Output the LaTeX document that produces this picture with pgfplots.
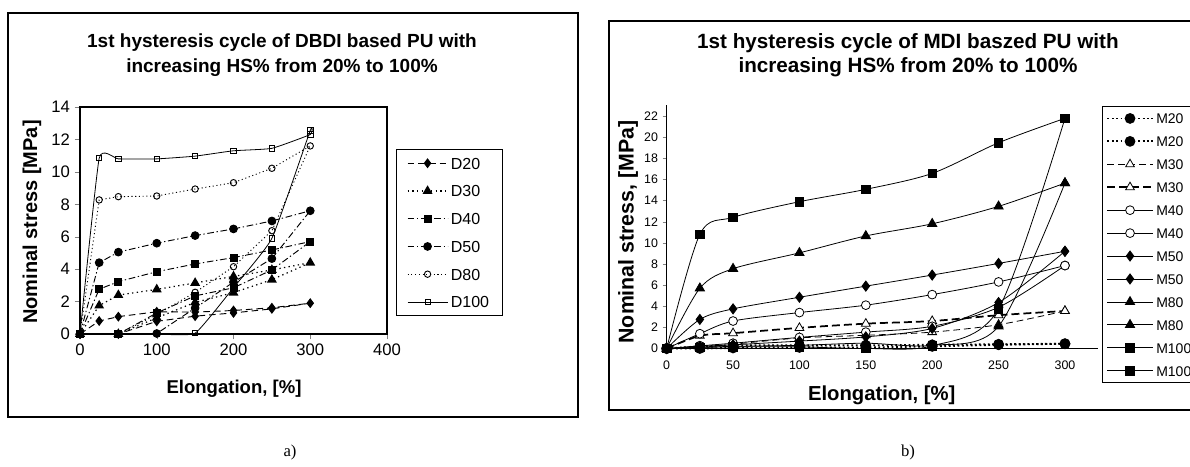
\documentclass[border=0pt]{standalone}
\usepackage{fontspec}
\setmainfont{Liberation Sans}
\newfontfamily\timesf{Liberation Serif}
\usepackage{pgfplots}
\pgfplotsset{compat=1.18}

\pgfplotstableread{
x y
0 0
25 0.8
50 1.07
100 1.37
150 1.35
200 1.45
250 1.62
300 1.9
250 1.55
200 1.3
150 1.1
100 0.78
50 0
0 0
}\Dtwenty
\pgfplotstableread{
x y
0 0
25 1.75
50 2.4
100 2.75
150 3.15
200 3.55
250 3.95
300 4.4
250 3.35
200 2.55
150 1.95
100 1.0
50 0
0 0
}\Dthirty
\pgfplotstableread{
x y
0 0
25 2.76
50 3.23
100 3.84
150 4.32
200 4.71
250 5.18
300 5.7
250 3.95
200 2.85
150 2.35
100 1.3
50 0
0 0
}\Dforty
\pgfplotstableread{
x y
0 0
25 4.4
50 5.05
100 5.6
150 6.07
200 6.48
250 6.97
300 7.6
250 4.65
200 3.2
150 1.6
100 0.03
50 0
0 0
}\Dfifty
\pgfplotstableread{
x y
0 0
25 8.27
50 8.47
100 8.51
150 8.94
200 9.33
250 10.22
300 11.6
250 6.37
200 4.15
150 2.57
100 1.2
50 0
0 0
}\Deighty
\pgfplotstableread{
x y
0 0
25 10.84
50 10.8
100 10.8
150 10.97
200 11.3
250 11.45
300 12.3
300 12.55
250 5.9
200 2.86
150 0.05
100 0
50 0
0 0
}\Dhundred

\pgfplotstableread{
x y
0 0
25 0.2
50 0.3
100 0.3
150 0.3
200 0.35
250 0.4
300 0.45
}\MtwentyL
\pgfplotstableread{
x y
300 0.45
250 0.35
200 0.2
150 0.1
100 0.1
50 0.05
25 0
0 0
}\MtwentyU
\pgfplotstableread{
x y
300 3.55
250 2.25
200 1.55
150 1.25
100 1.0
50 0.4
25 0.1
0 0
}\MthirtyU
\pgfplotstableread{
x y
0 0
25 1.2
50 1.45
100 1.95
150 2.35
200 2.6
250 3.15
300 3.55
}\MthirtyL
\pgfplotstableread{
x y
0 0
25 1.4
50 2.6
100 3.4
150 4.1
200 5.1
250 6.3
300 7.85
}\MfortyL
\pgfplotstableread{
x y
300 7.85
250 3.9
200 2.1
150 1.55
100 1.05
50 0.5
25 0.25
0 0
}\MfortyU
\pgfplotstableread{
x y
0 0
25 2.75
50 3.75
100 4.85
150 5.9
200 6.95
250 8.05
300 9.2
}\MfiftyL
\pgfplotstableread{
x y
300 9.2
250 4.35
200 1.9
150 1.1
100 0.7
50 0.35
25 0.2
0 0
}\MfiftyU
\pgfplotstableread{
x y
0 0
25 5.7
50 7.55
100 9.05
150 10.65
200 11.8
250 13.45
300 15.65
}\MeightyL
\pgfplotstableread{
x y
300 15.65
250 2.1
200 0.3
150 0.5
100 0.3
50 0.2
25 0.1
0 0
}\MeightyU
\pgfplotstableread{
x y
0 0
25 10.8
50 12.41
100 13.89
150 15.06
200 16.57
250 19.47
300 21.78
}\MhundredL
\pgfplotstableread{
x y
300 21.78
250 3.75
200 0.25
150 0.0
100 0.15
50 0.15
25 0.1
0 0
}\MhundredU

\begin{document}
\begin{tikzpicture}
\path[use as bounding box] (0,0) rectangle (892.5pt,350.25pt);
\draw[line width=0.9pt] (6pt,37.5pt) rectangle (433.5pt,340.5pt);
\draw[line width=0.9pt] (456.75pt,42.75pt) rectangle (905pt,334.5pt);

% ---------------- left chart ----------------
\begin{axis}[
  at={(60pt,99.75pt)}, anchor=south west, scale only axis,
  width=230.25pt, height=170.25pt,
  xmin=0, xmax=400, ymin=0, ymax=14,
  xtick={0,100,200,300,400}, ytick={0,2,...,14},
  tick align=outside, tick pos=left, major tick length=4pt,
  /pgf/number format/assume math mode=true,
  tick label style={font=\fontsize{12.5}{14}\selectfont},
  clip=false,
  axis line style={line width=0.8pt},
  legend style={at={(1.029,0.815)}, anchor=north west, draw=black, line width=0.6pt,
    font=\fontsize{12}{14}\selectfont, row sep=8pt, inner xsep=8pt, inner ysep=4pt,
    nodes={inner sep=2pt, text height=8.8pt, text depth=0pt}, cells={anchor=west}},
  legend image code/.code={\draw[mark repeat=2,mark phase=2,#1] plot coordinates {(0pt,0pt) (15pt,0pt) (30pt,0pt)};},
]
\addplot[black, line width=0.7pt, dash pattern=on 5pt off 3pt, mark=diamond*, mark size=3.2pt, mark options={solid, fill=black}] table {\Dtwenty};
\addlegendentry{D20}
\addplot[black, line width=0.9pt, dash pattern=on 1pt off 2.5pt, mark=triangle*, mark size=3.4pt, mark options={solid, fill=black}] table {\Dthirty};
\addlegendentry{D30}
\addplot[black, line width=0.7pt, dash pattern=on 5pt off 2pt on 1pt off 2pt, mark=square*, mark size=2.6pt, mark options={solid, fill=black}] table {\Dforty};
\addlegendentry{D40}
\addplot[black, line width=0.7pt, dash pattern=on 5pt off 2pt on 1pt off 2pt, mark=*, mark size=2.9pt, mark options={solid, fill=black}] table {\Dfifty};
\addlegendentry{D50}
\addplot[black, line width=0.7pt, dash pattern=on 0.8pt off 2pt, mark=o, mark size=2.4pt, mark options={solid, fill=white}] table {\Deighty};
\addlegendentry{D80}
\addplot[black, line width=0.6pt, smooth, tension=0.25, mark=square, mark size=2pt, mark options={solid, fill=white}] table {\Dhundred};
\addlegendentry{D100}
\end{axis}

% ---------------- right chart ----------------
\begin{axis}[
  at={(500pt,88.875pt)}, anchor=south west, scale only axis,
  width=323.6pt, height=182.3pt,
  xmin=0, xmax=325, ymin=0, ymax=23,
  xtick={0,50,...,300}, ytick={0,2,...,22},
  axis lines=left, axis line style={-, line width=0.6pt},
  tick align=outside, major tick length=3pt,
  xtick style={draw=none},
  /pgf/number format/assume math mode=true,
  tick label style={font=\fontsize{9.3}{11}\selectfont},
  xticklabel style={yshift=-3pt},
  clip=false,
  legend style={at={(1.009,0.9975)}, anchor=north west, draw=black, line width=0.6pt,
    font=\fontsize{10.5}{12}\selectfont, row sep=5.2pt, inner sep=3pt,
    nodes={inner sep=2pt, text height=8pt, text depth=0pt}, cells={anchor=west}},
  legend image code/.code={\draw[mark repeat=2,mark phase=2,#1] plot coordinates {(0pt,0pt) (17pt,0pt) (34pt,0pt)};},
  every axis plot/.append style={black, smooth, tension=0.5},
]
\addplot[line width=1.4pt, dash pattern=on 1.3pt off 2pt, mark=*, mark size=3.3pt, mark options={solid, fill=black}] table {\MtwentyL};
\addlegendentry{M20}
\addplot[line width=1.4pt, dash pattern=on 1.3pt off 2pt, mark=*, mark size=3.3pt, mark options={solid, fill=black}] table {\MtwentyU};
\addlegendentry{M20}
\addplot[line width=0.6pt, dash pattern=on 5pt off 3pt, mark=triangle*, mark size=3.8pt, mark options={solid, fill=white}] table {\MthirtyU};
\addlegendentry{M30}
\addplot[line width=1.3pt, dash pattern=on 6pt off 3pt, mark=triangle*, mark size=3.8pt, mark options={solid, fill=white, line width=0.6pt}] table {\MthirtyL};
\addlegendentry{M30}
\addplot[line width=0.6pt, mark=*, mark size=3.3pt, mark options={solid, fill=white}] table {\MfortyL};
\addlegendentry{M40}
\addplot[line width=0.6pt, mark=*, mark size=3.3pt, mark options={solid, fill=white}] table {\MfortyU};
\addlegendentry{M40}
\addplot[line width=0.6pt, mark=diamond*, mark size=3.8pt, mark options={solid, fill=black}] table {\MfiftyL};
\addlegendentry{M50}
\addplot[line width=0.6pt, mark=diamond*, mark size=3.8pt, mark options={solid, fill=black}] table {\MfiftyU};
\addlegendentry{M50}
\addplot[line width=0.6pt, mark=triangle*, mark size=4pt, mark options={solid, fill=black}] table {\MeightyL};
\addlegendentry{M80}
\addplot[line width=0.6pt, mark=triangle*, mark size=4pt, mark options={solid, fill=black}] table {\MeightyU};
\addlegendentry{M80}
\addplot[line width=0.6pt, mark=square*, mark size=3.2pt, mark options={solid, fill=black}] table {\MhundredL};
\addlegendentry{M100}
\addplot[line width=0.6pt, mark=square*, mark size=3.2pt, mark options={solid, fill=black}] table {\MhundredU};
\addlegendentry{M100}
\end{axis}

% ---------------- texts ----------------
\node[font=\bfseries\fontsize{14.25}{17}\selectfont] at (211.5pt,318pt) {1st hysteresis cycle of DBDI based PU with};
\node[font=\bfseries\fontsize{14.25}{17}\selectfont] at (211.5pt,299.5pt) {increasing HS\% from 20\% to 100\%};
\node[font=\bfseries\fontsize{15}{18}\selectfont, rotate=90] at (24pt,183.75pt) {Nominal stress [MPa]};
\node[font=\bfseries\fontsize{13.9}{16}\selectfont] at (175.5pt,59pt) {Elongation, [\%]};

\node[font=\bfseries\fontsize{15.5}{18}\selectfont] at (681pt,318pt) {1st hysteresis cycle of MDI baszed PU with};
\node[font=\bfseries\fontsize{15.5}{18}\selectfont] at (681pt,300pt) {increasing HS\% from 20\% to 100\%};
\node[font=\bfseries\fontsize{16}{18}\selectfont, rotate=90] at (471pt,176.25pt) {Nominal stress, [MPa]};
\node[font=\bfseries\fontsize{15.2}{18}\selectfont] at (661.3pt,54pt) {Elongation, [\%]};

\node[font=\timesf\fontsize{12.5}{14}\selectfont] at (217.5pt,11.25pt) {a)};
\node[font=\timesf\fontsize{12.5}{14}\selectfont] at (681pt,11.25pt) {b)};
\end{tikzpicture}
\end{document}
